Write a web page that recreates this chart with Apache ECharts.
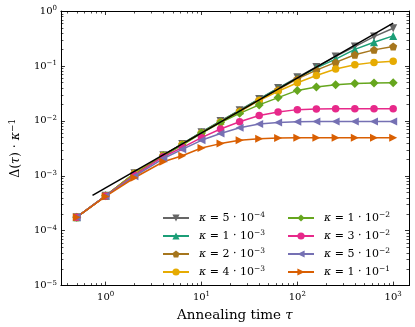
<!DOCTYPE html>
<html>
<head>
<meta charset="utf-8">
<script src="https://cdn.jsdelivr.net/npm/echarts@6/dist/echarts.min.js"></script>
<style>
  html, body { margin: 0; padding: 0; background: #fff; }
  #chart { width: 415px; height: 327px; }
</style>
</head>
<body>
<div id="chart"></div>
<script>
// annealing times (x)
const tau = [0.5, 1, 2, 4, 6.3, 10, 15.8, 25, 40, 63, 100, 158, 251, 398, 631, 1000];

// Delta(tau)/kappa for each kappa
const k5e4 = [1.76e-4, 4.32e-4, 1.11e-3, 2.36e-3, 3.8e-3, 6.2e-3, 9.9e-3, 1.56e-2, 2.5e-2, 3.95e-2, 6.2e-2, 9.55e-2, 0.149, 0.225, 0.342, 0.486];
const k1e3 = [1.76e-4, 4.32e-4, 1.11e-3, 2.36e-3, 3.8e-3, 6.2e-3, 9.9e-3, 1.55e-2, 2.48e-2, 3.9e-2, 6.0e-2, 9.2e-2, 0.133, 0.2, 0.27, 0.352];
const k2e3 = [1.76e-4, 4.32e-4, 1.11e-3, 2.35e-3, 3.75e-3, 6.1e-3, 9.7e-3, 1.52e-2, 2.4e-2, 3.7e-2, 5.8e-2, 8.4e-2, 0.116, 0.16, 0.196, 0.226];
const k4e3 = [1.76e-4, 4.32e-4, 1.1e-3, 2.33e-3, 3.7e-3, 6.0e-3, 9.4e-3, 1.45e-2, 2.35e-2, 3.45e-2, 4.95e-2, 6.7e-2, 8.8e-2, 0.105, 0.116, 0.121];
const k1e2 = [1.76e-4, 4.32e-4, 1.07e-3, 2.31e-3, 3.6e-3, 6.0e-3, 9.3e-3, 1.37e-2, 1.95e-2, 2.65e-2, 3.58e-2, 4.13e-2, 4.56e-2, 4.78e-2, 4.9e-2, 4.95e-2];
const k3e2 = [1.76e-4, 4.3e-4, 1.03e-3, 2.22e-3, 3.26e-3, 4.94e-3, 7.1e-3, 9.6e-3, 1.25e-2, 1.45e-2, 1.6e-2, 1.65e-2, 1.66e-2, 1.66e-2, 1.66e-2, 1.66e-2];
const k5e2 = [1.76e-4, 4.28e-4, 9.8e-4, 2.06e-3, 3.03e-3, 4.42e-3, 5.9e-3, 7.5e-3, 8.8e-3, 9.3e-3, 9.6e-3, 9.7e-3, 9.7e-3, 9.7e-3, 9.7e-3, 9.7e-3];
const k1e1 = [1.76e-4, 4.2e-4, 9.2e-4, 1.8e-3, 2.32e-3, 3.2e-3, 3.85e-3, 4.42e-3, 4.74e-3, 4.86e-3, 4.94e-3, 4.94e-3, 4.94e-3, 4.94e-3, 4.94e-3, 4.94e-3];

// reference power law (black line), two end points
const refTau = [0.73, 1000];
const refVal = [4.4e-4, 0.6];

const kappaMant = ['5', '1', '2', '4', '1', '3', '5', '1'];
const kappaExp = ['−4', '−3', '−3', '−3', '−2', '−2', '−2', '−1'];

const xTickExps = [0, 1, 2, 3];
const yTickExps = [-5, -4, -3, -2, -1, 0];

const seriesVals = [k5e4, k1e3, k2e3, k4e3, k1e2, k3e2, k5e2, k1e1];
const colors = ['#666666', '#1b9e77', '#a6761d', '#e6ab02', '#66a61e', '#e7298a', '#7570b3', '#d95f02'];
const pentagon = 'path://M0,-10L9.51,-3.09L5.88,8.09L-5.88,8.09L-9.51,-3.09Z';
const symbols = [
  ['triangle', 180, 8], ['triangle', 0, 8], [pentagon, 0, 8], ['circle', 0, 7.5],
  ['diamond', 0, 9], ['circle', 0, 7.5], ['triangle', 90, 8], ['triangle', -90, 8],
];

const names = kappaMant.map((m, i) => 'k' + i);

const serif = 'DejaVu Serif';
const richTxt = (size, supSize, lh) => ({
  n: { fontFamily: serif, fontSize: size, color: '#000', lineHeight: lh },
  i: { fontFamily: serif, fontSize: size, fontStyle: 'italic', color: '#000', lineHeight: lh },
  s: { fontFamily: serif, fontSize: supSize, color: '#000', lineHeight: supSize + 1,
       padding: [0, 0, lh - supSize - 1, 0] },
});

function expLabel(v, exps) {
  const e = Math.round(Math.log10(v));
  if (Math.abs(Math.log10(v) - e) > 1e-6 || exps.indexOf(e) < 0) return '';
  return '{n|10}{s|' + (e < 0 ? '−' + (-e) : e) + '}';
}

// minor tick positions (2..9 x 10^k)
const minorData = [];
for (let e = -1; e <= 3; e++) {
  for (let m = 2; m <= 9; m++) {
    const v = m * Math.pow(10, e);
    if (v > 0.342 && v < 1462) minorData.push([v, 1e-3, 0]);
  }
}
for (let e = -5; e < 0; e++) {
  for (let m = 2; m <= 9; m++) minorData.push([1, m * Math.pow(10, e), 1]);
}

function renderMinor(params, api) {
  const cs = params.coordSys;
  const p = api.coord([api.value(0), api.value(1)]);
  const st = { stroke: '#000', lineWidth: 0.7 };
  if (api.value(2) === 0) {
    const x = Math.round(p[0]) + 0.5;
    return { type: 'group', children: [
      { type: 'line', shape: { x1: x, y1: cs.y + cs.height, x2: x, y2: cs.y + cs.height - 2.5 }, style: st },
      { type: 'line', shape: { x1: x, y1: cs.y, x2: x, y2: cs.y + 2.5 }, style: st },
    ] };
  }
  const y = Math.round(p[1]) + 0.5;
  return { type: 'group', children: [
    { type: 'line', shape: { x1: cs.x, y1: y, x2: cs.x + 2.5, y2: y }, style: st },
    { type: 'line', shape: { x1: cs.x + cs.width, y1: y, x2: cs.x + cs.width - 2.5, y2: y }, style: st },
  ] };
}

const chart = echarts.init(document.getElementById('chart'));

const axisCommon = {
  type: 'log',
  logBase: 10,
  axisLine: { show: true, onZero: false, lineStyle: { color: '#000', width: 1 } },
  axisTick: { show: true, inside: true, length: 4, lineStyle: { color: '#000', width: 0.8 } },
  splitLine: { show: false },
  minorTick: { show: false },
};

const legendCommon = {
  orient: 'vertical',
  padding: 0,
  itemWidth: 26,
  itemHeight: 9,
  itemGap: 4,
  textStyle: {
    fontFamily: serif, fontSize: 11, lineHeight: 14, padding: [0, 0, 0, 5],
    rich: richTxt(11, 7.5, 14),
  },
  formatter: (name) => {
    const i = names.indexOf(name);
    return '{i|κ}{n| = ' + kappaMant[i] + ' · 10}{s|' + kappaExp[i] + '}';
  },
};

const series = seriesVals.map((vals, i) => ({
  name: names[i],
  type: 'line',
  data: tau.map((t, j) => [t, vals[j]]),
  symbol: symbols[i][0],
  symbolRotate: symbols[i][1],
  symbolSize: symbols[i][2],
  lineStyle: { width: 1.5, color: colors[i] },
  itemStyle: { color: colors[i], borderWidth: 0 },
  emphasis: { disabled: true },
}));

series.push({
  name: 'ref',
  type: 'line',
  data: refTau.map((t, j) => [t, refVal[j]]),
  symbol: 'none',
  lineStyle: { width: 1.5, color: '#000' },
  z: 5,
});

series.push({
  type: 'custom',
  renderItem: renderMinor,
  data: minorData,
  encode: { x: 0, y: 1 },
  clip: false,
  silent: true,
});

chart.setOption({
  animation: false,
  backgroundColor: '#fff',
  grid: { left: 53, right: 6, top: 11, bottom: 40 },
  xAxis: [
    Object.assign({}, axisCommon, {
      position: 'bottom', min: 0.342, max: 1462,
      axisLabel: {
        margin: 5, formatter: (v) => expLabel(v, xTickExps),
        rich: richTxt(10, 7, 13),
      },
      name: '{n|Annealing time }{i|τ}',
      nameLocation: 'middle',
      nameGap: 18,
      nameTextStyle: { rich: richTxt(13.5, 9, 17) },
    }),
    Object.assign({}, axisCommon, {
      position: 'top', min: 0.342, max: 1462, axisLabel: { show: false },
    }),
  ],
  yAxis: [
    Object.assign({}, axisCommon, {
      position: 'left', min: 1e-5, max: 1,
      axisLabel: {
        margin: 4, formatter: (v) => expLabel(v, yTickExps),
        rich: richTxt(10, 7, 13),
      },
      name: '{n|Δ(}{i|τ}{n|) · }{i|κ}{s|−1}',
      nameLocation: 'middle',
      nameRotate: 90,
      nameGap: 34,
      nameTextStyle: { rich: richTxt(12.5, 9, 16) },
    }),
    Object.assign({}, axisCommon, {
      position: 'right', min: 1e-5, max: 1, axisLabel: { show: false },
    }),
  ],
  legend: [
    Object.assign({}, legendCommon, { left: 162, top: 211, data: names.slice(0, 4) }),
    Object.assign({}, legendCommon, { left: 287, top: 211, data: names.slice(4, 8) }),
  ],
  series: series,
});
</script>
</body>
</html>
